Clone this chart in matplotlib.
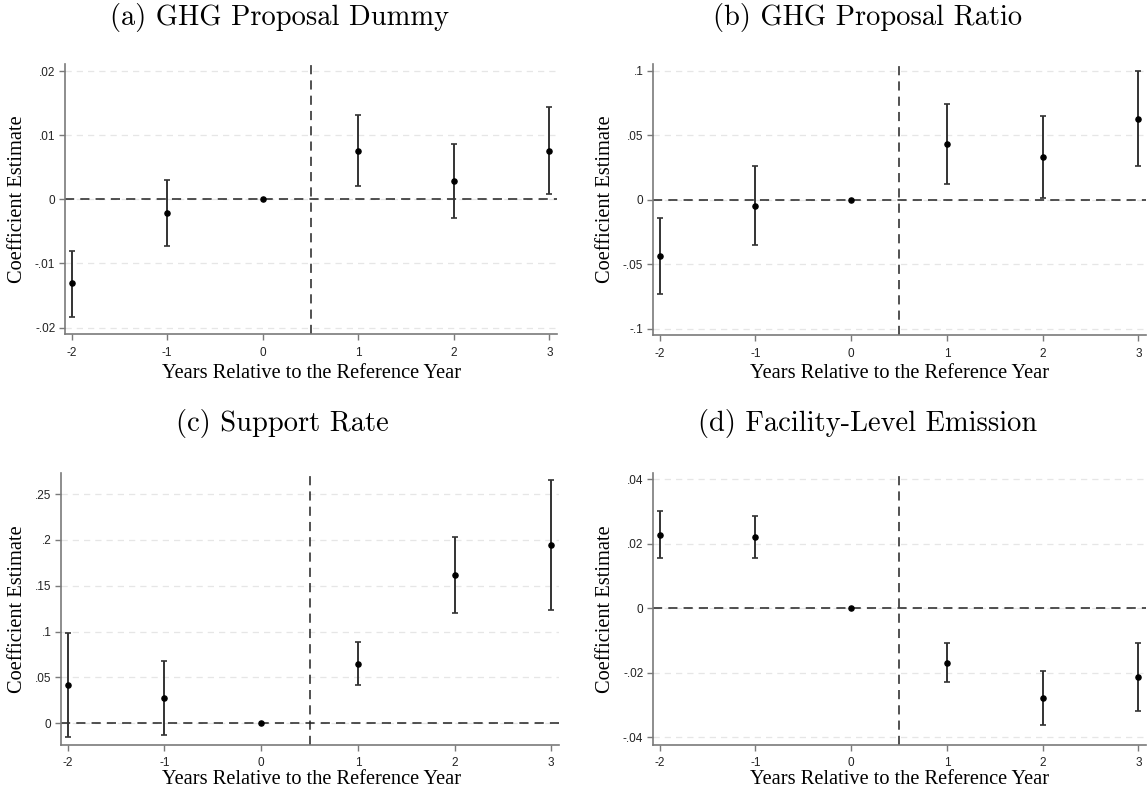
import matplotlib
matplotlib.use("Agg")
import matplotlib.pyplot as plt
import numpy as np

W, H = 1148, 796

# ---- data ----
periods = [-2, -1, 0, 1, 2, 3]

dummy_coef = [-0.0131, -0.0021, 0.0, 0.0076, 0.0028, 0.0076]
dummy_lo = [-0.0183, -0.0073, 0.0, 0.0021, -0.0029, 0.0008]
dummy_hi = [-0.0080, 0.0030, 0.0, 0.0131, 0.0086, 0.0144]

ratio_coef = [-0.0436, -0.0046, 0.0, 0.0430, 0.0332, 0.0629]
ratio_lo = [-0.0732, -0.0351, 0.0, 0.0121, 0.0015, 0.0263]
ratio_hi = [-0.0139, 0.0260, 0.0, 0.0745, 0.0650, 0.0997]

support_coef = [0.0419, 0.0277, 0.0, 0.0651, 0.1616, 0.1947]
support_lo = [-0.0149, -0.0124, 0.0, 0.0415, 0.1205, 0.1237]
support_hi = [0.0990, 0.0677, 0.0, 0.0888, 0.2030, 0.2657]

emis_coef = [0.0228, 0.0222, 0.0, -0.0169, -0.0277, -0.0213]
emis_lo = [0.0155, 0.0156, 0.0, -0.0230, -0.0362, -0.0317]
emis_hi = [0.0303, 0.0288, 0.0, -0.0108, -0.0193, -0.0109]

titles = ["(a) GHG Proposal Dummy", "(b) GHG Proposal Ratio",
          "(c) Support Rate", "(d) Facility-Level Emission"]
yticks_list = [[-0.02, -0.01, 0, 0.01, 0.02],
               [-0.1, -0.05, 0, 0.05, 0.1],
               [0, 0.05, 0.1, 0.15, 0.2, 0.25],
               [-0.04, -0.02, 0, 0.02, 0.04]]
ylims = [(-0.0210, 0.0211), (-0.105, 0.1054), (-0.0237, 0.273), (-0.0424, 0.042)]
xlabel = "Years Relative to the Reference Year"
ylabel = "Coefficient Estimate"

series = [(dummy_coef, dummy_lo, dummy_hi), (ratio_coef, ratio_lo, ratio_hi),
          (support_coef, support_lo, support_hi), (emis_coef, emis_lo, emis_hi)]

# axes boxes in pixels: left, right, top, bottom
boxes = [(65, 557, 64, 334), (653, 1146, 64, 335),
         (61, 559, 473, 745), (653, 1146, 473, 745)]
title_pos = [(280, 17), (868, 17), (282, 424), (868, 424)]
xlab_pos = [(312, 373), (900, 373), (312, 780), (900, 780)]
ylab_x = [18, 606, 18, 606]


def stata_fmt(v):
    if abs(v) < 1e-12:
        return "0"
    s = ("%g" % v)
    s = s.replace("0.", ".")
    return s


fig = plt.figure(figsize=(W / 100, H / 100), dpi=100)

for i in range(4):
    l, r, t, b = boxes[i]
    ax = fig.add_axes([l / W, 1 - b / H, (r - l) / W, (b - t) / H])
    coef, lo, hi = series[i]
    coef = np.array(coef)
    lo = np.array(lo)
    hi = np.array(hi)
    x = np.array(periods)
    mask = x != 0
    ax.errorbar(x[mask], coef[mask],
                yerr=[coef[mask] - lo[mask], hi[mask] - coef[mask]],
                fmt='none', ecolor='#333333', elinewidth=1.4, capsize=2.5,
                capthick=1.2, zorder=3)
    ax.plot(x, coef, 'o', color='black', markersize=3.7, zorder=4)

    ax.axhline(0, color='#222222', lw=1.1, ls=(0, (6, 4)), zorder=2)
    ax.axvline(0.5, color='#222222', lw=1.1, ls=(0, (6, 4)), zorder=2)

    ax.set_xlim(-2.07, 3.08)
    ax.set_ylim(*ylims[i])
    ax.set_xticks(periods)
    ax.set_xticklabels([str(p) for p in periods])
    yt = yticks_list[i]
    ax.set_yticks(yt)
    ax.set_yticklabels([stata_fmt(v) for v in yt])
    for v in yt:
        ax.axhline(v, color='#e6e6e6', lw=0.9, ls=(0, (5, 4)), zorder=1)

    for s in ['top', 'right']:
        ax.spines[s].set_visible(False)
    for s in ['left', 'bottom']:
        ax.spines[s].set_color('#7a7a7a')
        ax.spines[s].set_linewidth(1.2)
    ax.tick_params(axis='both', length=4, width=1.0, color='#7a7a7a',
                   labelsize=8.5, labelcolor='#222222')
    ax.tick_params(axis='x', pad=5)
    ax.tick_params(axis='y', pad=3)
    for lab in ax.get_xticklabels() + ax.get_yticklabels():
        lab.set_fontfamily('Liberation Sans')

    tx, ty = title_pos[i]
    fig.text(tx / W, 1 - ty / H, titles[i], family='cmr10', fontsize=20.5,
             ha='center', va='center')
    xx, xy = xlab_pos[i]
    fig.text(xx / W, 1 - xy / H, xlabel, family='Liberation Serif',
             fontsize=14.7, ha='center', va='center')
    fig.text(ylab_x[i] / W, 1 - ((t + b) / 2) / H, ylabel,
             family='Liberation Serif', fontsize=14.7, ha='center',
             va='center', rotation=90)

fig.savefig("out.png", dpi=100)
